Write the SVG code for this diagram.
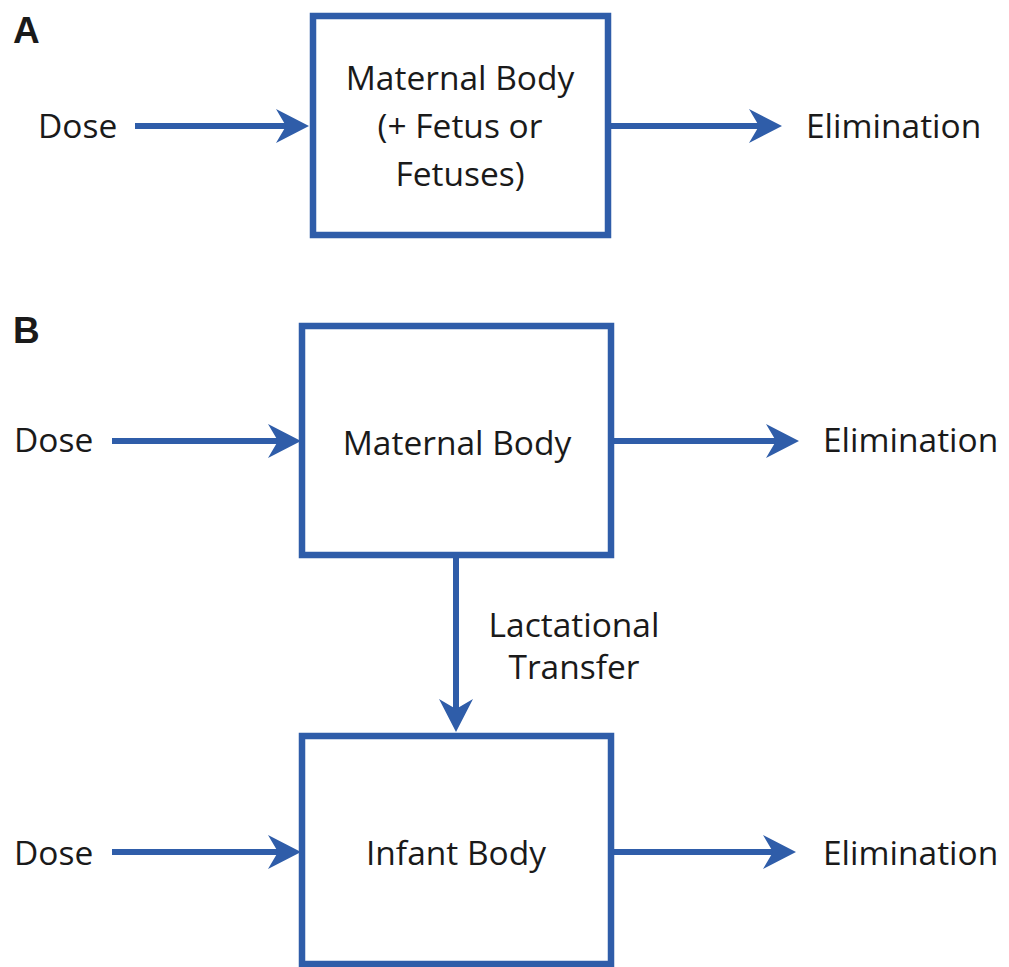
<svg xmlns="http://www.w3.org/2000/svg" width="1009" height="967" viewBox="0 0 1009 967">
<style>
.box{fill:#fff;stroke:#2F5DA9;stroke-width:6.5}
.ln{stroke:#2F5DA9;stroke-width:6;fill:none;marker-end:url(#ah)}
text{font-family:"Open Sans","Liberation Sans",sans-serif;font-size:33.5px;fill:#1a1a1a}
.c{text-anchor:middle}
.lab{font-family:"Liberation Sans",Arial,sans-serif;font-weight:bold;font-size:37px}
</style>
<defs>
<marker id="ah" markerUnits="userSpaceOnUse" viewBox="0 -18 34 36" refX="19" refY="0" markerWidth="34" markerHeight="36" orient="auto">
<path d="M0,-17 L33,0 L0,17 L10,0 Z" fill="#2F5DA9"/>
</marker>
</defs>
<rect width="1009" height="967" fill="#fff"/>
<text class="lab" x="13" y="43">A</text>
<text class="lab" x="13" y="343">B</text>
<g id="connectors">
<line class="ln" x1="135" y1="126" x2="295" y2="126"/>
<line class="ln" x1="608" y1="126" x2="768" y2="126"/>
<line class="ln" x1="112" y1="441" x2="287" y2="441"/>
<line class="ln" x1="611" y1="441" x2="785" y2="441"/>
<line class="ln" x1="456" y1="555" x2="456" y2="718"/>
<line class="ln" x1="112" y1="852" x2="287" y2="852"/>
<line class="ln" x1="611" y1="852" x2="782" y2="852"/>
</g>
<g id="dose-a"><text x="38" y="138">Dose</text></g>
<g id="elim-a"><text x="806" y="138">Elimination</text></g>
<g id="maternal-a">
<rect class="box" x="313" y="16" width="295" height="219"/>
<text class="c" x="460" y="90">Maternal Body</text>
<text class="c" x="460" y="138">(+ Fetus or</text>
<text class="c" x="460" y="186">Fetuses)</text>
</g>
<g id="dose-b1"><text x="14" y="452">Dose</text></g>
<g id="elim-b1"><text x="823" y="452">Elimination</text></g>
<g id="maternal-b">
<rect class="box" x="302" y="326" width="309" height="229"/>
<text class="c" x="457" y="455">Maternal Body</text>
</g>
<g id="lact-label">
<text class="c" x="574" y="637">Lactational</text>
<text class="c" x="574" y="679">Transfer</text>
</g>
<g id="dose-b2"><text x="14" y="865">Dose</text></g>
<g id="elim-b2"><text x="823" y="865">Elimination</text></g>
<g id="infant-b">
<rect class="box" x="302" y="736" width="309" height="228"/>
<text class="c" x="456" y="865">Infant Body</text>
</g>
</svg>
